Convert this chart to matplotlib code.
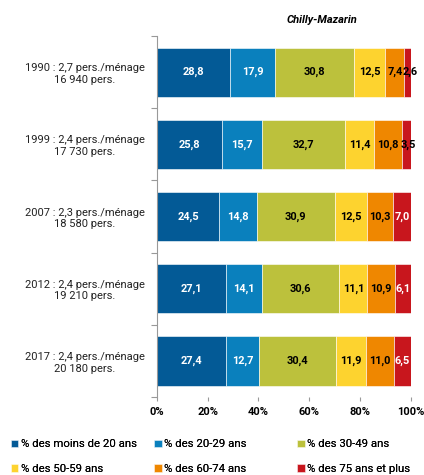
import matplotlib.pyplot as plt
import numpy as np

plt.rcParams['font.family'] = ['Roboto', 'DejaVu Sans']

# données
categories = ['1990 : 2,7 pers./ménage\n16 940 pers.',
              '1999 : 2,4 pers./ménage\n17 730 pers.',
              '2007 : 2,3 pers./ménage\n18 580 pers.',
              '2012 : 2,4 pers./ménage\n19 210 pers.',
              '2017 : 2,4 pers./ménage\n20 180 pers.']
series = ['% des moins de 20 ans', '% des 20-29 ans', '% des 30-49 ans',
          '% des 50-59 ans', '% des 60-74 ans', '% des 75 ans et plus']
moins20 = [28.8, 25.8, 24.5, 27.1, 27.4]
a20_29 = [17.9, 15.7, 14.8, 14.1, 12.7]
a30_49 = [30.8, 32.7, 30.9, 30.6, 30.4]
a50_59 = [12.5, 11.4, 12.5, 11.1, 11.9]
a60_74 = [7.4, 10.8, 10.3, 10.9, 11.0]
a75plus = [2.6, 3.5, 7.0, 6.1, 6.5]
values = [moins20, a20_29, a30_49, a50_59, a60_74, a75plus]

colors = ['#035a96', '#0a80bd', '#bcc13c', '#fdd32f', '#ef8700', '#c8161d']
text_colors = ['white', 'white', 'black', 'black', 'black', 'white']

fig = plt.figure(figsize=(4.24, 4.75), dpi=100)
ax = fig.add_axes([0.370, 0.164, 0.599, 0.760])

y = np.arange(len(categories))
left = np.zeros(len(categories))
handles = []
for i, vals in enumerate(values):
    vals = np.array(vals)
    b = ax.barh(y, vals, left=left, height=0.68, color=colors[i], edgecolor='white',
                linewidth=0.4, label=series[i])
    handles.append(b)
    for j, v in enumerate(vals):
        tc = text_colors[i]
        xpos = left[j] + v / 2
        if i == 5 and v < 5:
            tc = 'black'
            xpos = left[j] + v / 2 + 1.0
        ax.text(xpos, y[j], f'{v:.1f}'.replace('.', ','), ha='center',
                va='center', color=tc, fontsize=7.9, fontweight='bold')
    left += vals

ax.set_xlim(0, 100)
ax.set_ylim(len(categories) - 0.5, -0.5)
ax.set_xticks(np.arange(0, 101, 20))
ax.set_xticklabels([f'{t}%' for t in range(0, 101, 20)], fontsize=8, fontweight='bold')
ax.set_yticks(np.arange(-0.5, len(categories), 1))
ax.set_yticklabels([])
ax.set_yticks(y, minor=True)
ax.set_yticklabels(categories, minor=True, fontsize=8, ha='center', color='#222222',
                   multialignment='center')
ax.tick_params(axis='y', which='minor', length=0, pad=52)
ax.tick_params(axis='y', which='major', length=4, color='#999999')
ax.tick_params(axis='x', length=3, color='#999999', pad=4)
for s in ['top', 'right', 'bottom']:
    ax.spines[s].set_visible(False)
ax.spines['left'].set_color('#999999')

fig.text(0.760, 0.958, 'Chilly-Mazarin', ha='center', va='center', fontsize=8,
         fontweight='bold', style='italic')

# légende : 3 colonnes à positions fixes
col_x = [0.026, 0.364, 0.701]
for c in range(3):
    hs = [handles[c], handles[c + 3]]
    lg = fig.legend(hs, [series[c], series[c + 3]], loc='upper left',
                    bbox_to_anchor=(col_x[c], 0.075), frameon=False, fontsize=8.2,
                    handlelength=0.65, handleheight=0.65, handletextpad=0.2,
                    labelspacing=1.3, borderpad=0, borderaxespad=0)
    fig.add_artist(lg)
fig.savefig('out.png', dpi=100)
